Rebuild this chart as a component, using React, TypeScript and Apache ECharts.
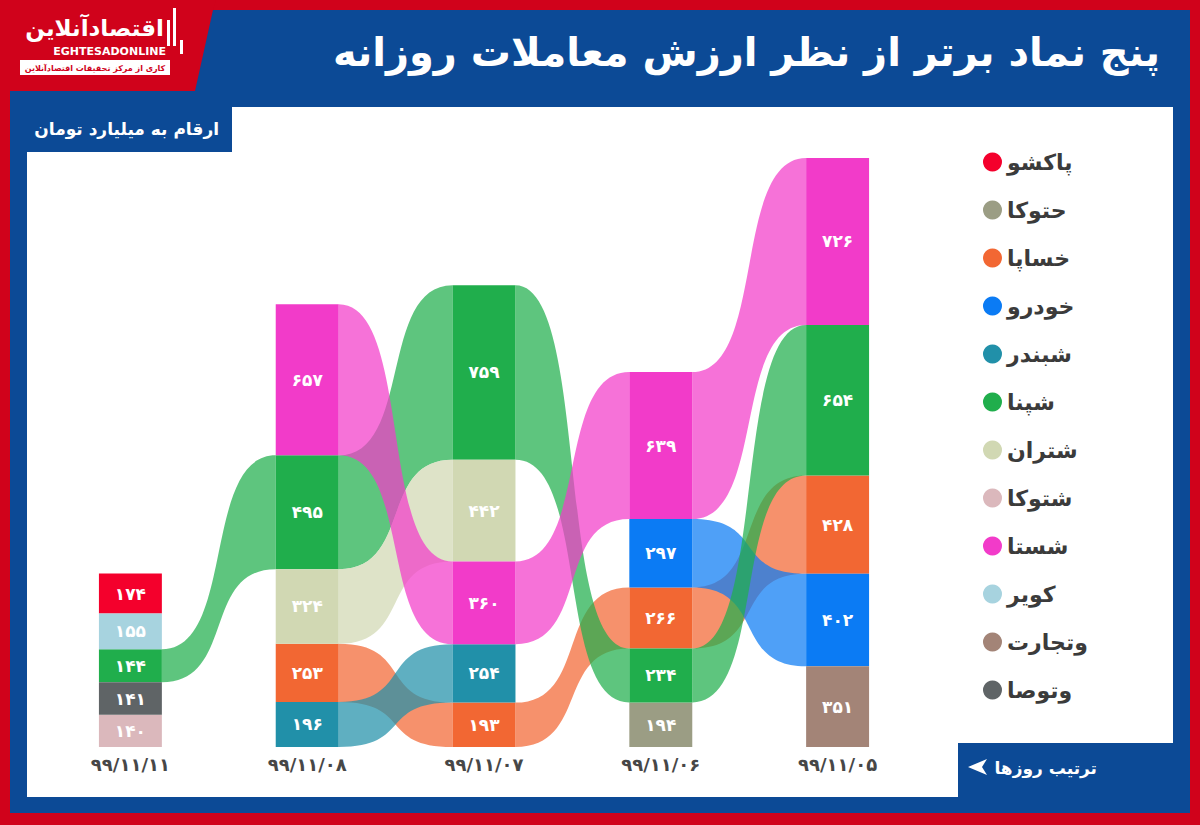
import React, { useEffect, useRef } from "react";
import * as echarts from "echarts";

// ---- data ----
const dates = ["۹۹/۱۱/۱۱", "۹۹/۱۱/۰۸", "۹۹/۱۱/۰۷", "۹۹/۱۱/۰۶", "۹۹/۱۱/۰۵"];

// each day: symbols top -> bottom and their values (billion toman)
const day1Names = ["پاکشو", "کویر", "شپنا", "وتوصا", "شتوکا"];
const day1Values = [174, 155, 144, 141, 140];
const day2Names = ["شستا", "شپنا", "شتران", "خساپا", "شبندر"];
const day2Values = [657, 495, 324, 253, 196];
const day3Names = ["شپنا", "شتران", "شستا", "شبندر", "خساپا"];
const day3Values = [759, 442, 360, 254, 193];
const day4Names = ["شستا", "خودرو", "خساپا", "شپنا", "حتوکا"];
const day4Values = [639, 297, 266, 234, 194];
const day5Names = ["شستا", "شپنا", "خساپا", "خودرو", "وتجارت"];
const day5Values = [726, 654, 428, 402, 351];

const symbols = ["پاکشو", "حتوکا", "خساپا", "خودرو", "شبندر", "شپنا", "شتران", "شتوکا", "شستا", "کویر", "وتجارت", "وتوصا"];
const symbolColors = ["#f4002c", "#9b9d84", "#f26733", "#0b7bf4", "#2190a9", "#20ae4c", "#d1d8b3", "#dbb8bc", "#f23bc9", "#a7d3df", "#a38477", "#5f6466"];

const FONT = '"DejaVu Sans", "Noto Sans", sans-serif';
const toFa = (n: number) => String(n).replace(/\d/g, (d) => "۰۱۲۳۴۵۶۷۸۹"[+d]);

export default function App() {
  const ref = useRef<HTMLDivElement>(null);
  useEffect(() => {
    if (!ref.current) return;
    const chart = echarts.init(ref.current, null, { renderer: "svg" });

    const days = [
      [day1Names, day1Values],
      [day2Names, day2Values],
      [day3Names, day3Values],
      [day4Names, day4Values],
      [day5Names, day5Values],
    ] as [string[], number[]][];

    // stacked positions per day
    const pos: Record<string, [number, number, number]>[] = days.map(([names, vals]) => {
      const m: Record<string, [number, number, number]> = {};
      let acc = 0;
      for (let i = names.length - 1; i >= 0; i--) {
        m[names[i]] = [acc, acc + vals[i], vals[i]];
        acc += vals[i];
      }
      return m;
    });
    const yMax = Math.max(...days.map(([, v]) => v.reduce((a, b) => a + b, 0)));

    const BAR = 0.356;
    const K = 0.65;

    const series = symbols.map((name, si) => {
      const data: number[][] = [];
      pos.forEach((m, c) => {
        const p = m[name];
        if (!p) return;
        const n = c + 1 < pos.length ? pos[c + 1][name] : undefined;
        data.push([c, p[0], p[1], n ? n[0] : -1, n ? n[1] : -1, p[2]]);
      });
      const color = symbolColors[si];
      return {
        type: "custom",
        name,
        itemStyle: { color },
        data,
        renderItem: (params: any, api: any) => {
          const c = api.value(0);
          const y0 = api.value(1);
          const y1 = api.value(2);
          const n0 = api.value(3);
          const n1 = api.value(4);
          const v = api.value(5);
          const bw = api.size([1, 0])[0] * BAR;
          const pb = api.coord([c, y0]);
          const pt = api.coord([c, y1]);
          const children: any[] = [];
          if (n1 > 0) {
            const qb = api.coord([c + 1, n0]);
            const qt = api.coord([c + 1, n1]);
            const xa = pb[0] + bw / 2;
            const xb = qb[0] - bw / 2;
            const g = xb - xa;
            const c1 = xa + K * g;
            const c2 = xb - K * g;
            const d =
              `M${xa},${pt[1]}C${c1},${pt[1]} ${c2},${qt[1]} ${xb},${qt[1]}` +
              `L${xb},${qb[1]}C${c2},${qb[1]} ${c1},${pb[1]} ${xa},${pb[1]}Z`;
            children.push({
              type: "path",
              shape: { pathData: d },
              style: { fill: color, opacity: 0.72 },
            });
          }
          children.push({
            type: "rect",
            shape: { x: pb[0] - bw / 2, y: pt[1], width: bw, height: pb[1] - pt[1] },
            style: { fill: color },
          });
          children.push({
            type: "text",
            style: {
              text: toFa(v),
              x: pb[0],
              y: (pb[1] + pt[1]) / 2,
              align: "center",
              verticalAlign: "middle",
              textAlign: "center",
              textVerticalAlign: "middle",
              fill: "#ffffff",
              fontSize: 17,
              fontWeight: "bold",
              fontFamily: FONT,
            },
          });
          return { type: "group", children };
        },
      };
    });

    const txt = (x: number, y: number, text: string, size: number, fill: string, align = "right", weight = "bold") => ({
      type: "text",
      x,
      y,
      silent: true,
      style: {
        text,
        fill,
        fontSize: size,
        fontWeight: weight,
        fontFamily: FONT,
        align,
        verticalAlign: "middle",
        textAlign: align,
        textVerticalAlign: "middle",
      },
    });

    const option: any = {
      animation: false,
      grid: { left: 42, width: 884, top: 158, bottom: 78 },
      xAxis: {
        type: "category",
        data: dates,
        axisLine: { show: false },
        axisTick: { show: false },
        axisLabel: { color: "#474747", fontSize: 18, fontWeight: "bold", fontFamily: FONT, margin: 8 },
      },
      yAxis: { type: "value", min: 0, max: yMax, show: false, splitLine: { show: false } },
      legend: {
        orient: "vertical",
        left: 978,
        top: 144,
        icon: "circle",
        itemWidth: 19,
        itemHeight: 19,
        itemGap: 22,
        selectedMode: false,
        textStyle: { color: "#3b3b3b", fontSize: 22, fontWeight: "bold", fontFamily: FONT, lineHeight: 26 },
        data: symbols,
      },
      graphic: [
        { type: "rect", silent: true, shape: { x: 0, y: 0, width: 1200, height: 825 }, style: { fill: "#d0021b" } },
        { type: "rect", silent: true, shape: { x: 10, y: 10, width: 1180, height: 803 }, style: { fill: "#0c4a96" } },
        { type: "polygon", silent: true, shape: { points: [[0, 0], [216, 0], [213, 10], [195, 91], [0, 91]] }, style: { fill: "#d0021b" } },
        { type: "rect", silent: true, shape: { x: 27, y: 107, width: 1146, height: 690 }, style: { fill: "#ffffff" } },
        { type: "rect", silent: true, shape: { x: 10, y: 98, width: 222, height: 54 }, style: { fill: "#0c4a96" } },
        { type: "rect", silent: true, shape: { x: 958, y: 743, width: 215, height: 60 }, style: { fill: "#0c4a96" } },
        // logo
        txt(164, 28, "اقتصادآنلاین", 23, "#ffffff"),
        { type: "rect", silent: true, shape: { x: 167, y: 20, width: 3, height: 26 }, style: { fill: "#ffffff" } },
        { type: "rect", silent: true, shape: { x: 173, y: 8, width: 3, height: 38 }, style: { fill: "#ffffff" } },
        { type: "rect", silent: true, shape: { x: 180, y: 40, width: 3, height: 14 }, style: { fill: "#ffffff" } },
        txt(166, 51, "EGHTESADONLINE", 11, "#ffffff"),
        { type: "rect", silent: true, shape: { x: 20, y: 60, width: 150, height: 15 }, style: { fill: "#ffffff" } },
        txt(95, 68, "کاری از مرکز تحقیقات اقتصادآنلاین", 8, "#d0021b", "center"),
        // title & notes
        txt(1160, 52, "پنج نماد برتر از نظر ارزش معاملات روزانه", 40, "#ffffff"),
        txt(219, 129, "ارقام به میلیارد تومان", 17, "#ffffff"),
        txt(1097, 768, "ترتیب روزها", 17, "#ffffff"),
        { type: "polygon", silent: true, shape: { points: [[968, 767], [987, 759], [982, 767], [987, 775]] }, style: { fill: "#ffffff" } },
      ],
      series,
    };
    chart.setOption(option);
    return () => chart.dispose();
  }, []);
  return <div ref={ref} style={{ position: "absolute", left: 0, top: 0, width: 1200, height: 825 }} />;
}
